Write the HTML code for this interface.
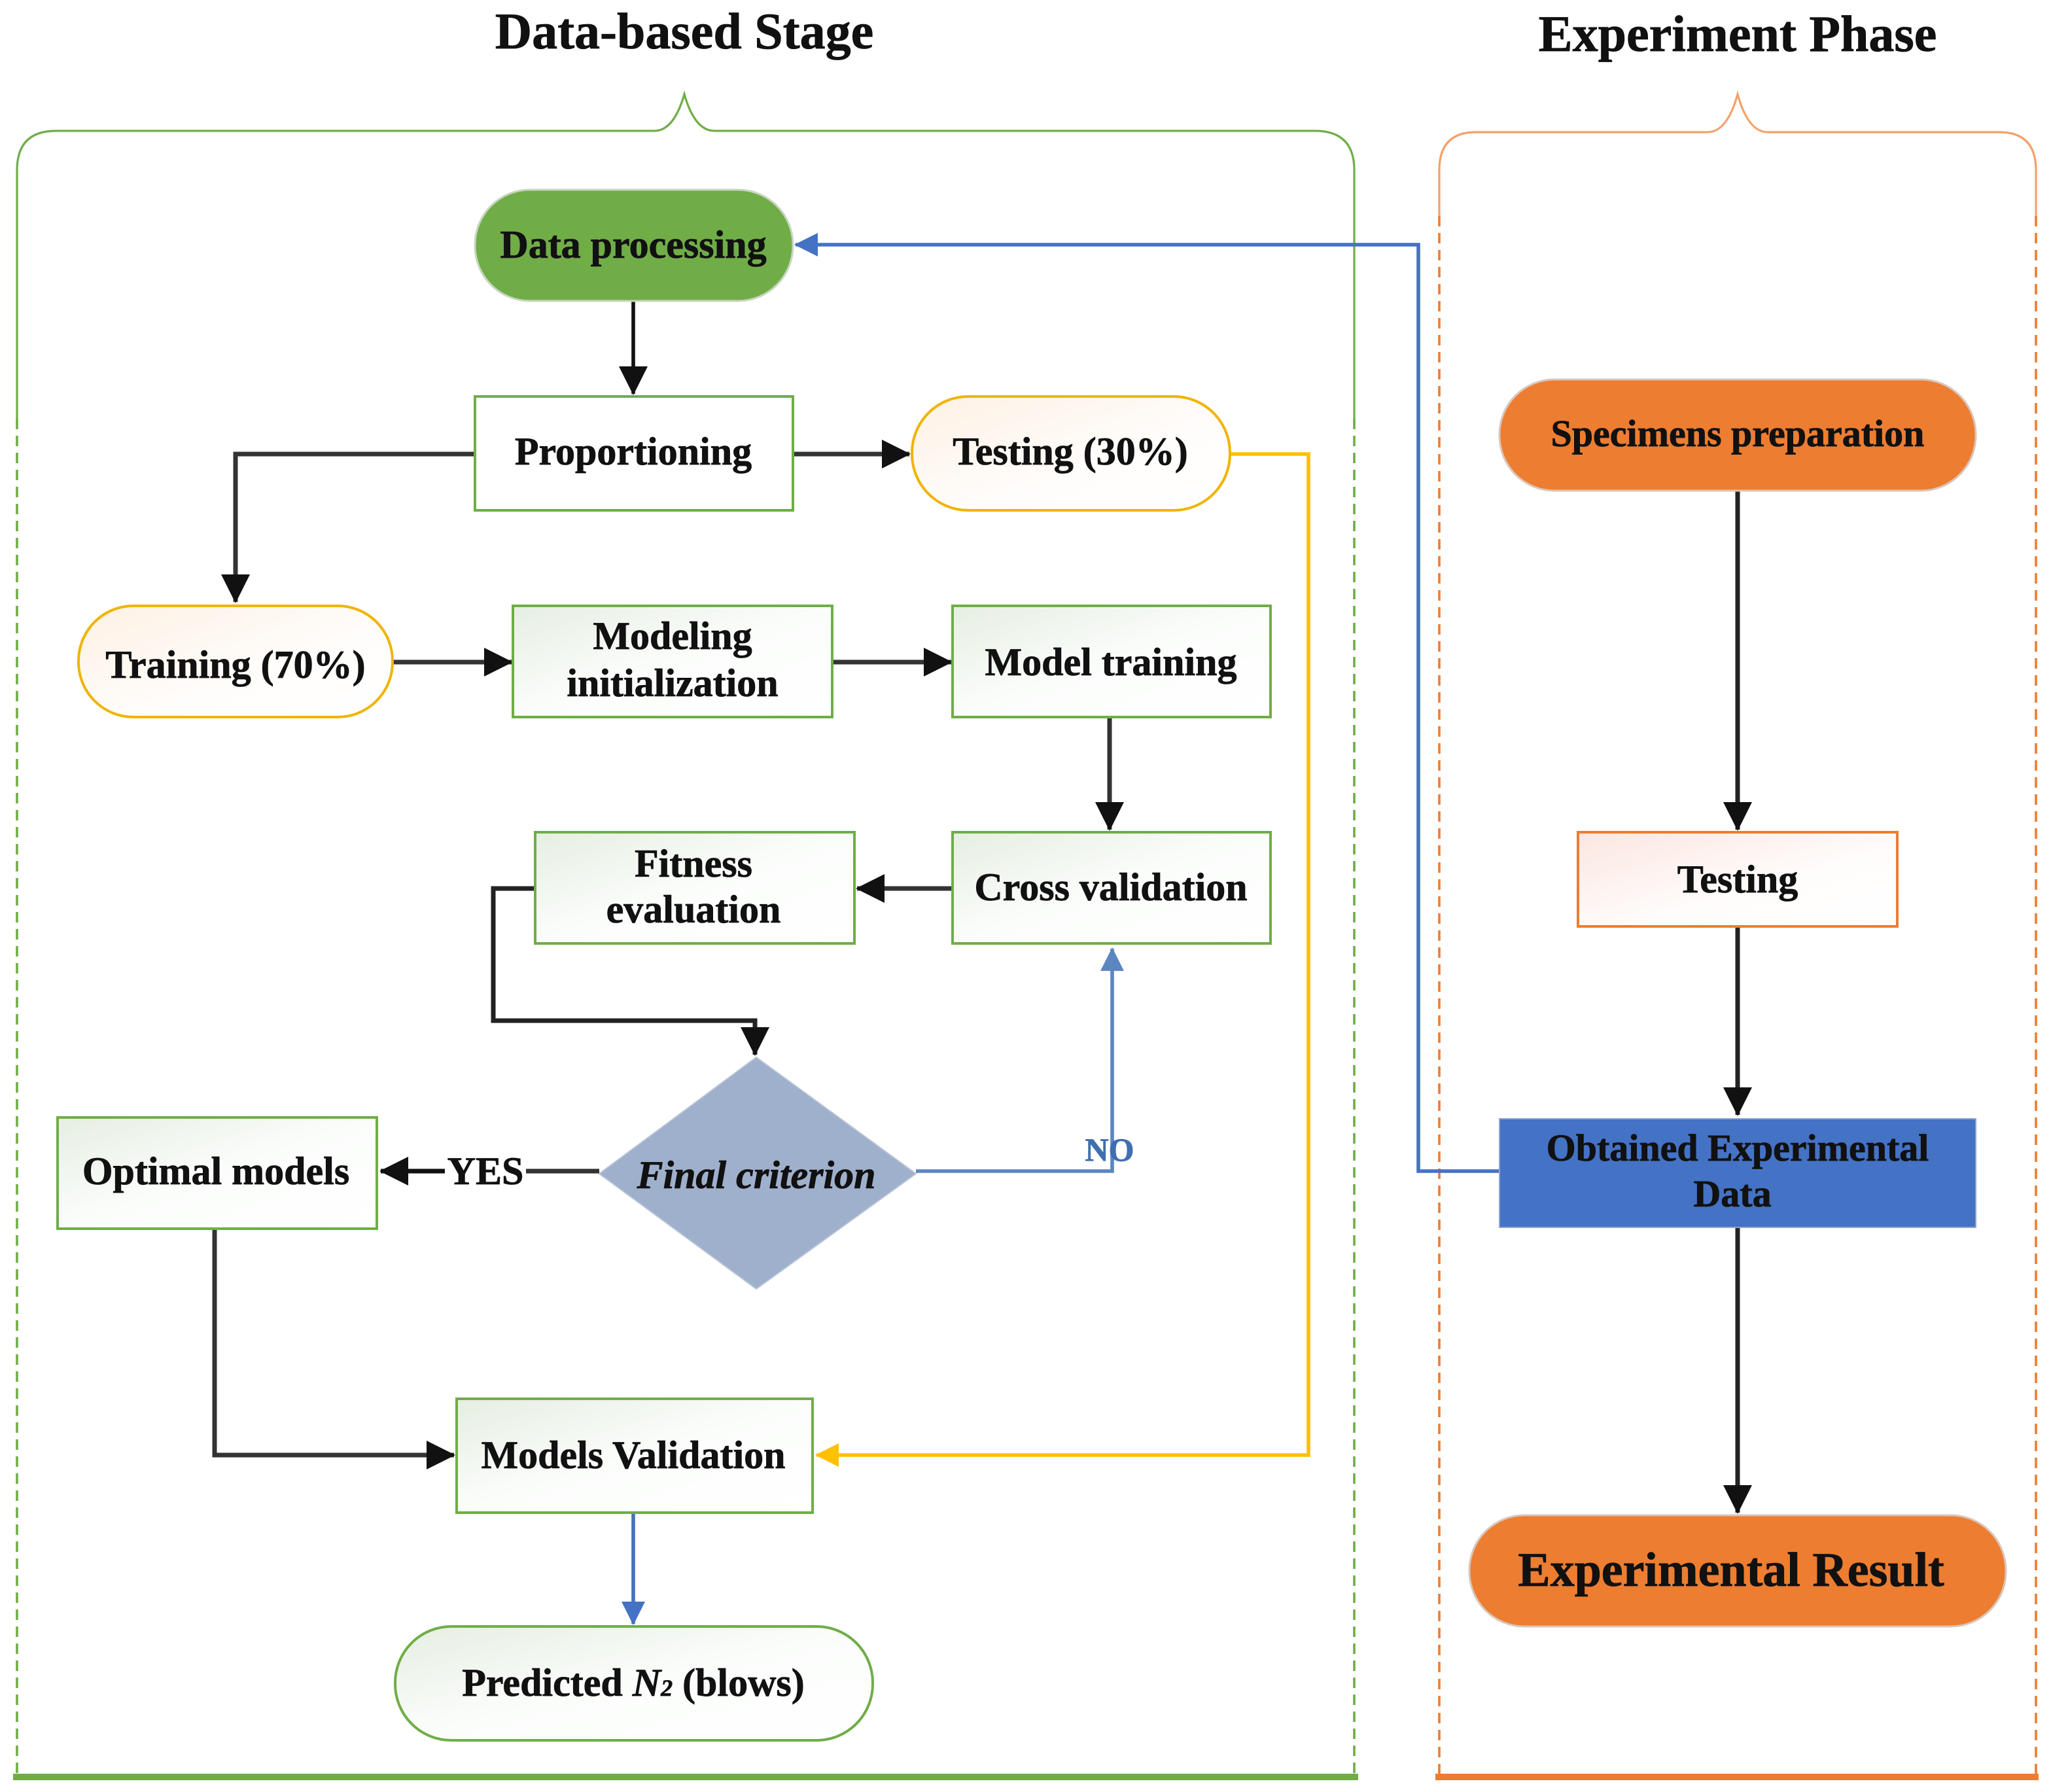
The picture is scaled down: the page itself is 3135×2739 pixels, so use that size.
<!DOCTYPE html>
<html><head><meta charset="utf-8">
<style>
html,body{margin:0;padding:0;background:#fff;}
svg{display:block;}
text{font-family:"Liberation Serif",serif;font-weight:bold;fill:#111;stroke:#111;stroke-width:0.4;}
</style></head>
<body>
<svg width="3135" height="2739" viewBox="0 0 1567.5 1369.5" xmlns="http://www.w3.org/2000/svg">
<defs>
<linearGradient id="gg" x1="0" y1="0" x2="1" y2="1"><stop offset="0" stop-color="#e6eee2"/><stop offset="0.5" stop-color="#fbfdfb"/><stop offset="1" stop-color="#ffffff"/></linearGradient>
<linearGradient id="yg" x1="0" y1="0" x2="1" y2="1"><stop offset="0" stop-color="#fdf1e4"/><stop offset="0.6" stop-color="#fffdfb"/><stop offset="1" stop-color="#fff"/></linearGradient>
<linearGradient id="og" x1="0" y1="0" x2="1" y2="1"><stop offset="0" stop-color="#fbe6e0"/><stop offset="0.6" stop-color="#fffdfc"/><stop offset="1" stop-color="#fff"/></linearGradient>
<marker id="ab" markerWidth="18" markerHeight="18" refX="17" refY="9" orient="auto" markerUnits="userSpaceOnUse"><path d="M0,0 L18,9 L0,18 z" fill="#4472c4"/></marker>
<marker id="asb" markerWidth="18" markerHeight="18" refX="17" refY="9" orient="auto" markerUnits="userSpaceOnUse"><path d="M0,0 L18,9 L0,18 z" fill="#5b86c0"/></marker>
<marker id="ay" markerWidth="18" markerHeight="18" refX="17" refY="9" orient="auto" markerUnits="userSpaceOnUse"><path d="M0,0 L18,9 L0,18 z" fill="#ffc000"/></marker>
<marker id="abig" markerWidth="22" markerHeight="22" refX="21" refY="11" orient="auto" markerUnits="userSpaceOnUse"><path d="M0,0 L22,11 L0,22 z" fill="#111"/></marker>
</defs>

<text x="523" y="37" font-size="39" text-anchor="middle">Data-based Stage</text>
<text x="1328" y="39" font-size="39" text-anchor="middle">Experiment Phase</text>

<path d="M13,320 L13,130 Q13,100 43,100 L500,100 Q515,100 523,72 Q531,100 546,100 L1005,100 Q1035,100 1035,130 L1035,320" fill="none" stroke="#70ad47" stroke-width="1.6"/>
<line x1="13" y1="320" x2="13" y2="1356" stroke="#70ad47" stroke-width="1.8" stroke-dasharray="8,5"/>
<line x1="1035" y1="320" x2="1035" y2="1356" stroke="#70ad47" stroke-width="1.8" stroke-dasharray="8,5"/>
<line x1="10" y1="1358" x2="1038" y2="1358" stroke="#70ad47" stroke-width="5"/>

<path d="M1100,165 L1100,130 Q1100,101 1128,101 L1305,101 Q1320,101 1328,72 Q1336,101 1351,101 L1528,101 Q1556,101 1556,130 L1556,165" fill="none" stroke="#f4a06a" stroke-width="1.6"/>
<line x1="1100" y1="165" x2="1100" y2="1356" stroke="#ed7d31" stroke-width="1.8" stroke-dasharray="8,5"/>
<line x1="1556" y1="165" x2="1556" y2="1356" stroke="#ed7d31" stroke-width="1.8" stroke-dasharray="8,5"/>
<line x1="1097" y1="1358" x2="1558" y2="1358" stroke="#ed7d31" stroke-width="5"/>

<line x1="484" y1="230" x2="484" y2="301" stroke="#111" stroke-width="2.8" marker-end="url(#abig)"/>
<line x1="606" y1="347" x2="695" y2="347" stroke="#333" stroke-width="3.5" marker-end="url(#abig)"/>
<polyline points="363,347 180,347 180,460" fill="none" stroke="#333" stroke-width="3.5" marker-end="url(#abig)"/>
<polyline points="940,347 1000,347 1000,1112 624,1112" fill="none" stroke="#ffc000" stroke-width="2.8" marker-end="url(#ay)"/>
<line x1="300" y1="506" x2="391" y2="506" stroke="#333" stroke-width="3.5" marker-end="url(#abig)"/>
<line x1="636" y1="506" x2="727" y2="506" stroke="#333" stroke-width="3.5" marker-end="url(#abig)"/>
<line x1="848" y1="548" x2="848" y2="634" stroke="#333" stroke-width="3.5" marker-end="url(#abig)"/>
<line x1="728" y1="679" x2="655" y2="679" stroke="#333" stroke-width="3.5" marker-end="url(#abig)"/>
<polyline points="409,679 377,679 377,780 577,780 577,806" fill="none" stroke="#222" stroke-width="3.5" marker-end="url(#abig)"/>
<polyline points="700,895 850,895 850,725" fill="none" stroke="#5b86c0" stroke-width="2.8" marker-end="url(#asb)"/>
<line x1="458" y1="895" x2="402" y2="895" stroke="#333" stroke-width="3.5"/>
<line x1="340" y1="895" x2="291" y2="895" stroke="#111" stroke-width="3.5" marker-end="url(#abig)"/>
<polyline points="164,939 164,1112 347,1112" fill="none" stroke="#333" stroke-width="3.5" marker-end="url(#abig)"/>
<line x1="484" y1="1156" x2="484" y2="1241" stroke="#4472c4" stroke-width="2.8" marker-end="url(#ab)"/>
<polyline points="1146,895 1084,895 1084,187 608,187" fill="none" stroke="#4472c4" stroke-width="2.8" marker-end="url(#ab)"/>
<line x1="1328" y1="375" x2="1328" y2="634" stroke="#222" stroke-width="3.5" marker-end="url(#abig)"/>
<line x1="1328" y1="708" x2="1328" y2="852" stroke="#222" stroke-width="3.5" marker-end="url(#abig)"/>
<line x1="1328" y1="938" x2="1328" y2="1156" stroke="#222" stroke-width="3.5" marker-end="url(#abig)"/>

<rect x="363" y="145" width="243" height="85" rx="42" fill="#70ad47" stroke="#c9d6c0" stroke-width="1.5"/>
<text x="484" y="197" font-size="30" text-anchor="middle">Data processing</text>

<rect x="363" y="303" width="243" height="87" fill="#fff" stroke="#70ad47" stroke-width="2"/>
<text x="484" y="355" font-size="30" text-anchor="middle">Proportioning</text>

<rect x="697" y="303" width="243" height="87" rx="43" fill="url(#yg)" stroke="#f0b400" stroke-width="2"/>
<text x="818" y="355" font-size="30" text-anchor="middle">Testing (30%)</text>

<rect x="60" y="463" width="240" height="85" rx="42" fill="url(#yg)" stroke="#f0b400" stroke-width="2"/>
<text x="180" y="518" font-size="30" text-anchor="middle">Training (70%)</text>

<rect x="392" y="463" width="244" height="85" fill="url(#gg)" stroke="#70ad47" stroke-width="2"/>
<text x="514" y="496" font-size="30" text-anchor="middle">Modeling</text>
<text x="514" y="532" font-size="30" text-anchor="middle">initialization</text>

<rect x="728" y="463" width="243" height="85" fill="url(#gg)" stroke="#70ad47" stroke-width="2"/>
<text x="849" y="516" font-size="30" text-anchor="middle">Model training</text>

<rect x="728" y="636" width="243" height="85" fill="url(#gg)" stroke="#70ad47" stroke-width="2"/>
<text x="849" y="688" font-size="30" text-anchor="middle">Cross validation</text>

<rect x="409" y="636" width="244" height="85" fill="url(#gg)" stroke="#70ad47" stroke-width="2"/>
<text x="530" y="670" font-size="30" text-anchor="middle">Fitness</text>
<text x="530" y="705" font-size="30" text-anchor="middle">evaluation</text>

<polygon points="578,808 700,897 578,985 458,897" fill="#9fb0cc" stroke="#b8c3d6" stroke-width="1"/>
<text x="578" y="908" font-size="30" font-style="italic" text-anchor="middle">Final criterion</text>

<text x="371" y="905" font-size="30" text-anchor="middle">YES</text>
<text x="848" y="887" font-size="25" text-anchor="middle" style="fill:#3f6fb0;stroke:#3f6fb0">NO</text>

<rect x="44" y="854" width="244" height="85" fill="url(#gg)" stroke="#70ad47" stroke-width="2"/>
<text x="165" y="905" font-size="30" text-anchor="middle">Optimal models</text>

<rect x="349" y="1069" width="272" height="87" fill="url(#gg)" stroke="#70ad47" stroke-width="2"/>
<text x="484" y="1122" font-size="30" text-anchor="middle">Models Validation</text>

<rect x="302" y="1243" width="365" height="87" rx="43" fill="url(#gg)" stroke="#70ad47" stroke-width="2"/>
<text x="484" y="1296" font-size="30" text-anchor="middle">Predicted <tspan font-style="italic">N</tspan><tspan font-size="18" font-style="italic">2</tspan> (blows)</text>

<rect x="1146" y="290" width="364" height="85" rx="42" fill="#ed7d31" stroke="#d9c6bb" stroke-width="1.5"/>
<text x="1328" y="341" font-size="29" text-anchor="middle">Specimens preparation</text>

<rect x="1206" y="636" width="244" height="72" fill="url(#og)" stroke="#ed7d31" stroke-width="2"/>
<text x="1328" y="682" font-size="30" text-anchor="middle">Testing</text>

<rect x="1146" y="855" width="364" height="83" fill="#4472c4" stroke="#8fa6d2" stroke-width="1"/>
<text x="1328" y="887" font-size="29" text-anchor="middle">Obtained Experimental</text>
<text x="1324" y="922" font-size="29" text-anchor="middle">Data</text>

<rect x="1123" y="1158" width="410" height="85" rx="42" fill="#ed7d31" stroke="#d9c6bb" stroke-width="1.5"/>
<text x="1323" y="1212" font-size="37" text-anchor="middle">Experimental Result</text>
</svg>
</body></html>
